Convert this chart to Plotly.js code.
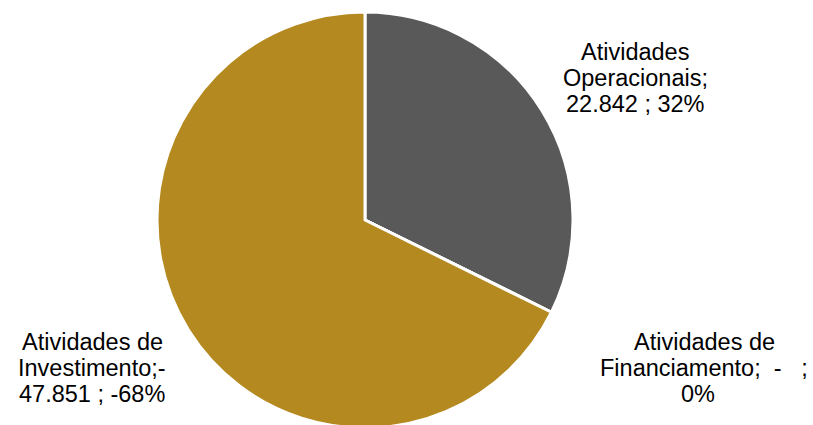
<!DOCTYPE html>
<html>
<head>
<meta charset="utf-8">
<script src="https://cdn.plot.ly/plotly-3.0.1.min.js"></script>
<style>
html,body{margin:0;padding:0;overflow:hidden;background:#fff;}
#chart{width:813px;height:440px;}
</style>
</head>
<body>
<div id="chart"></div>
<script>
// Data
var categories = ["Atividades Operacionais", "Atividades de Financiamento", "Atividades de Investimento"];
var values = [22842, 0, -47851];
var colors = ["#595959", "#A5A5A5", "#B4891F"];
// label line layout (text only), one entry per category
var labelLines = [
  ["Atividades", "Operacionais;", "{v} ; {p}"],
  ["Atividades de", "Financiamento;\u00A0 {v} \u00A0\u00A0;", "{p}"],
  ["Atividades de", "Investimento;{v}", "{v2} ; {p}"]
];

function fmt(n) {
  if (n === 0) return "-";
  var s = Math.abs(n).toString().replace(/\B(?=(\d{3})+(?!\d))/g, ".");
  return (n < 0 ? "-" : "") + s;
}
var total = values.reduce(function (a, b) { return a + Math.abs(b); }, 0);
function pct(n) {
  var p = Math.round(Math.abs(n) / total * 100);
  return (n < 0 ? "-" : "") + p + "%";
}

var W = 813, H = 440;
// label placement (pixel centers) per category
var labelPos = [
  {x: 635, y: [52, 78, 104]},
  {x: 704, y: [342, 368, 394]},
  {x: 92, y: [342, 368, 394]}
];

var annotations = [];
labelLines.forEach(function (lines, i) {
  var v = values[i];
  lines.forEach(function (ln, j) {
    var t;
    if (i === 2 && j === 1) t = ln.replace("{v}", "-");
    else if (i === 2 && j === 2) t = ln.replace("{v2}", fmt(Math.abs(v))).replace("{p}", pct(v));
    else t = ln.replace("{v}", fmt(v)).replace("{p}", pct(v));
    var px = labelPos[i].x;
    if (i === 1 && j === 2) px = 698;
    annotations.push({
      text: t,
      x: px / W, y: 1 - labelPos[i].y[j] / H,
      xref: "paper", yref: "paper",
      xanchor: "center", yanchor: "middle",
      showarrow: false,
      font: {family: "Liberation Sans, Arial, sans-serif", size: 23.5, color: "#000"}
    });
  });
});

var trace = {
  type: "pie",
  labels: categories,
  values: values.map(Math.abs),
  sort: false,
  direction: "clockwise",
  rotation: 0,
  textinfo: "none",
  hoverinfo: "none",
  marker: {colors: colors, line: {color: "#ffffff", width: 3}},
  domain: {x: [157 / W, 573 / W], y: [0, 1]}
};

var layout = {
  width: W, height: H,
  margin: {l: 0, r: 0, t: 0, b: 0},
  showlegend: false,
  paper_bgcolor: "#ffffff",
  annotations: annotations
};

Plotly.newPlot("chart", [trace], layout, {displayModeBar: false, staticPlot: true});
</script>
</body>
</html>
